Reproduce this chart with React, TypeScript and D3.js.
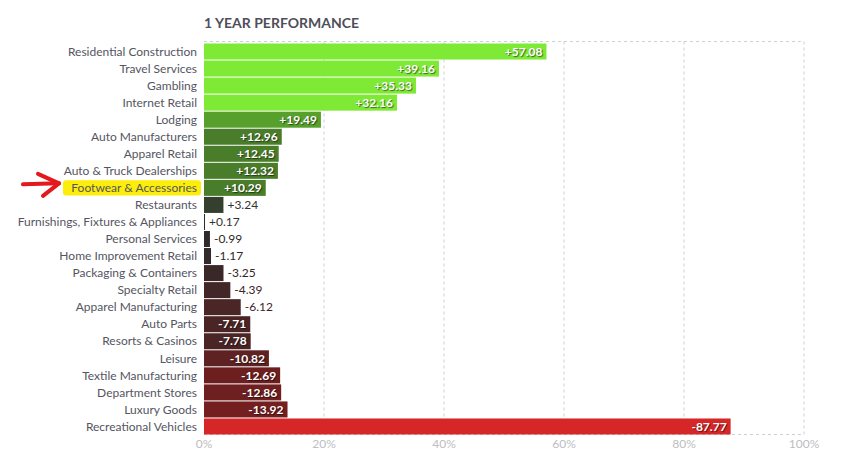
import React from "react";
import * as d3 from "d3";

const categories = [
  "Residential Construction",
  "Travel Services",
  "Gambling",
  "Internet Retail",
  "Lodging",
  "Auto Manufacturers",
  "Apparel Retail",
  "Auto & Truck Dealerships",
  "Footwear & Accessories",
  "Restaurants",
  "Furnishings, Fixtures & Appliances",
  "Personal Services",
  "Home Improvement Retail",
  "Packaging & Containers",
  "Specialty Retail",
  "Apparel Manufacturing",
  "Auto Parts",
  "Resorts & Casinos",
  "Leisure",
  "Textile Manufacturing",
  "Department Stores",
  "Luxury Goods",
  "Recreational Vehicles",
];

const values = [
  57.08, 39.16, 35.33, 32.16, 19.49, 12.96, 12.45, 12.32, 10.29, 3.24, 0.17,
  -0.99, -1.17, -3.25, -4.39, -6.12, -7.71, -7.78, -10.82, -12.69, -12.86,
  -13.92, -87.77,
];

const tickValues = [0, 20, 40, 60, 80, 100];
const title = "1 YEAR PERFORMANCE";
const highlighted = "Footwear & Accessories";

const W = 851;
const H = 459;
const FONT = "Lato, 'Open Sans', sans-serif";

export default function App() {
  const x = d3.scaleLinear().domain([0, 100]).range([204, 804]);
  const y = d3
    .scaleBand<string>()
    .domain(categories)
    .range([43.5, 434.5])
    .paddingInner(0.06)
    .paddingOuter(0);

  const color = d3
    .scaleLinear<string>()
    .domain([-87.77, -13.92, -12.7, -10.8, -7.7, -6.1, -4.4, -3.25, -1, 0, 3.24, 10, 13, 19.5, 30, 60])
    .range([
      "#d62728",
      "#741e1f",
      "#6d1f20",
      "#5e2223",
      "#4b2526",
      "#4a2627",
      "#412728",
      "#3a2828",
      "#302b2b",
      "#2d2d2d",
      "#343f2d",
      "#4a7d2a",
      "#4a7d2a",
      "#58a02c",
      "#7fea36",
      "#7fea36",
    ])
    .clamp(true);

  const fmt = (v: number) => (v > 0 ? "+" : "") + v.toFixed(2);
  const hy = y(highlighted)!;
  const bw = y.bandwidth();

  return (
    <svg
      width={W}
      height={H}
      style={{ position: "absolute", left: 0, top: 0, fontFamily: FONT }}
    >
      <rect width={W} height={H} fill="#fff" />
      <text x={204} y={28} fontSize={14} fontWeight={700} fill="#4f4f5a">
        {title}
      </text>
      {/* grid */}
      {tickValues.slice(1).map((t) => (
        <line
          key={"g" + t}
          x1={x(t)}
          x2={x(t)}
          y1={41.5}
          y2={434.5}
          stroke="#cfcfd4"
          strokeDasharray="3,3"
        />
      ))}
      <line x1={x(0)} x2={x(100)} y1={41.5} y2={41.5} stroke="#cfcfd4" strokeDasharray="3,3" />
      <line x1={x(0)} x2={x(100)} y1={434.5} y2={434.5} stroke="#cfcfd4" strokeDasharray="3,3" />
      {tickValues.map((t) => (
        <text
          key={"t" + t}
          x={x(t)}
          y={448}
          textAnchor="middle"
          fontSize={12}
          fill="#bdbdc2"
        >
          {t}%
        </text>
      ))}
      {/* highlight + arrow */}
      <rect x={63} y={hy + 0.5} width={138} height={bw - 1} rx={3} fill="#fcee0a" />
      <g stroke="#e3191d" strokeWidth={4} fill="none" strokeLinecap="round" strokeLinejoin="round">
        <path d={`M23,${hy + 4.5} L59,${hy + 3.5}`} />
        <path d={`M38,${hy - 6} L59,${hy + 3.5} L43,${hy + 16}`} />
      </g>
      {categories.map((c, i) => {
        const v = values[i];
        const w = x(Math.abs(v)) - x(0);
        const yy = y(c)!;
        const inside = w >= 40;
        const col = color(v);
        return (
          <g key={c}>
            <text
              x={197}
              y={yy + bw / 2}
              dy="0.35em"
              textAnchor="end"
              fontSize={12}
              fill="#55555f"
            >
              {c}
            </text>
            <rect x={x(0)} y={yy} width={Math.max(w, 1)} height={bw} fill={col} />
            {inside ? (
              <text
                x={x(0) + w - 4}
                y={yy + bw / 2}
                dy="0.35em"
                textAnchor="end"
                fontSize={12}
                fontWeight={700}
                fill="#fff"
                style={{ textShadow: "1px 1px 1px rgba(0,0,0,0.55)" }}
              >
                {fmt(v)}
              </text>
            ) : (
              <text
                x={x(0) + Math.max(w, 1) + 4}
                y={yy + bw / 2}
                dy="0.35em"
                fontSize={12}
                fill={v > 0 ? "#333" : d3.color(col)!.darker(0.2).formatHex()}
              >
                {fmt(v)}
              </text>
            )}
          </g>
        );
      })}
    </svg>
  );
}
